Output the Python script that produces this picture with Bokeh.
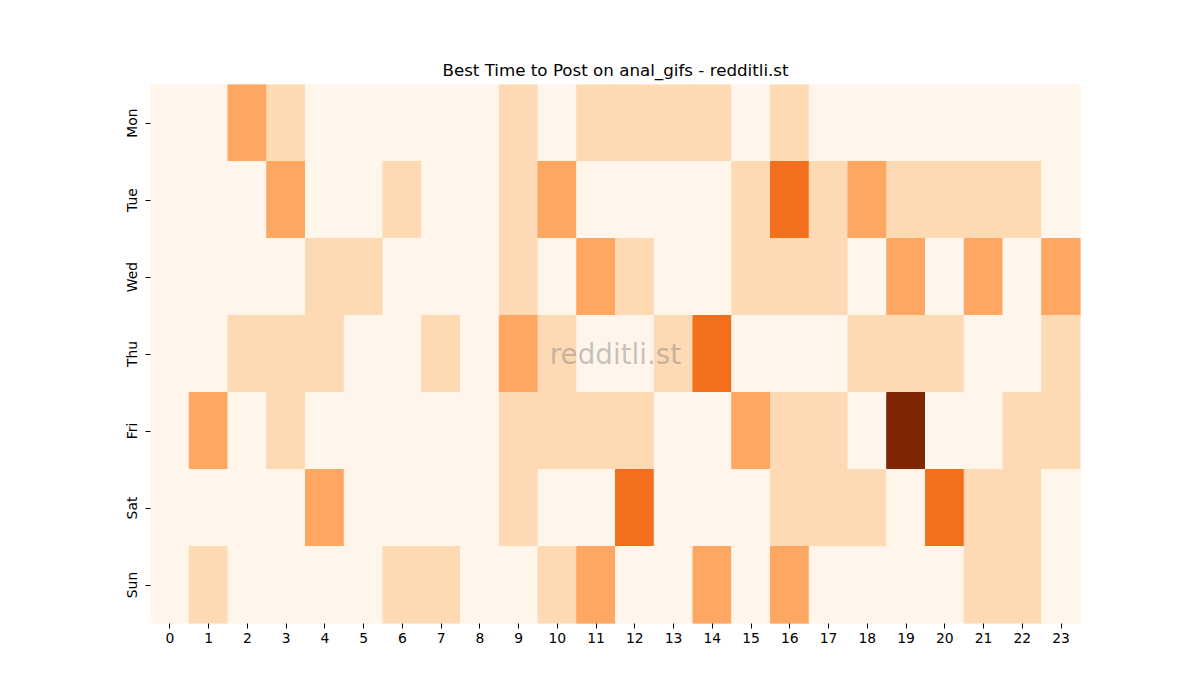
import pandas as pd
from bokeh.plotting import figure
from bokeh.models import ColumnDataSource, FactorRange, Label
from bokeh.embed import file_html
from bokeh.resources import INLINE


days = ["Mon", "Tue", "Wed", "Thu", "Fri", "Sat", "Sun"]
hours = [str(h) for h in range(24)]

mon = [0, 0, 2, 1, 0, 0, 0, 0, 0, 1, 0, 1, 1, 1, 1, 0, 1, 0, 0, 0, 0, 0, 0, 0]
tue = [0, 0, 0, 2, 0, 0, 1, 0, 0, 1, 2, 0, 0, 0, 0, 1, 3, 1, 2, 1, 1, 1, 1, 0]
wed = [0, 0, 0, 0, 1, 1, 0, 0, 0, 1, 0, 2, 1, 0, 0, 1, 1, 1, 0, 2, 0, 2, 0, 2]
thu = [0, 0, 1, 1, 1, 0, 0, 1, 0, 2, 1, 0, 0, 1, 3, 0, 0, 0, 1, 1, 1, 0, 0, 1]
fri = [0, 2, 0, 1, 0, 0, 0, 0, 0, 1, 1, 1, 1, 0, 0, 2, 1, 1, 0, 4, 0, 0, 1, 1]
sat = [0, 0, 0, 0, 2, 0, 0, 0, 0, 1, 0, 0, 3, 0, 0, 0, 1, 1, 1, 0, 3, 1, 1, 0]
sun = [0, 1, 0, 0, 0, 0, 1, 1, 0, 0, 1, 2, 0, 0, 2, 0, 2, 0, 0, 0, 0, 1, 1, 0]

# Oranges, one colour per level
palette = ["#fff5eb", "#fdd9b4", "#fda762", "#f2701d", "#7f2704"]


def build_frame():
    rows = []
    for day, vals in zip(days, [mon, tue, wed, thu, fri, sat, sun]):
        for hour, v in zip(hours, vals):
            rows.append({"day": day, "hour": hour, "value": v, "color": palette[v]})
    return pd.DataFrame(rows)


df = build_frame()
source = ColumnDataSource(df)

p = figure(
    title="Best Time to Post on anal_gifs - redditli.st",
    x_range=FactorRange(factors=hours),
    y_range=FactorRange(factors=list(reversed(days))),
    width=1184, height=684,
    min_border_left=150, min_border_right=104,
    min_border_top=84, min_border_bottom=61,
    output_backend="svg", toolbar_location=None, tools="",
)

# line in the same colour hides the seams between cells
p.rect(x="hour", y="day", width=1, height=1, source=source,
       fill_color="color", line_color="color", line_width=1)

p.title.align = "center"
p.title.text_font = "DejaVu Sans"
p.title.text_font_size = "16.7px"
p.title.text_font_style = "normal"
p.title.text_color = "black"

p.outline_line_color = None
p.xgrid.grid_line_color = None
p.ygrid.grid_line_color = None

for ax in [p.xaxis, p.yaxis]:
    ax.axis_line_color = None
    ax.major_tick_line_color = "black"
    ax.major_tick_out = 5
    ax.major_tick_in = 0
    ax.minor_tick_line_color = None
    ax.major_label_text_font = "DejaVu Sans"
    ax.major_label_text_font_size = "13.9px"
    ax.major_label_text_color = "black"
    ax.major_label_standoff = 4

p.yaxis.major_label_orientation = "vertical"
p.yaxis.major_label_standoff = 6

watermark = Label(x=12, y=3.5, text="redditli.st", text_align="center",
                  text_baseline="middle", text_font="DejaVu Sans",
                  text_font_size="27.8px", text_color="gray", text_alpha=0.45)
p.add_layout(watermark)

open("out.html", "w").write(file_html(p, INLINE))
